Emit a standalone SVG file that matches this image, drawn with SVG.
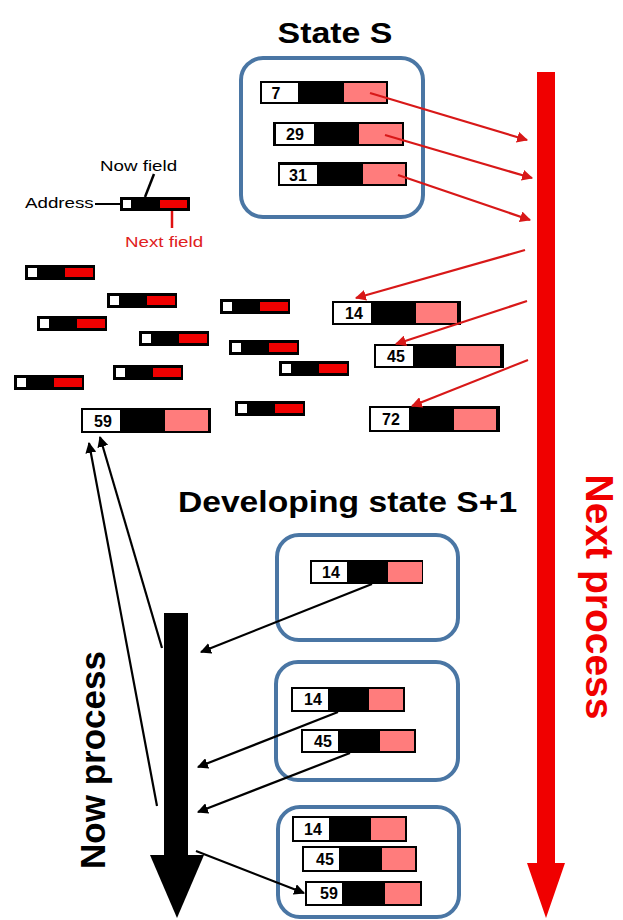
<svg xmlns="http://www.w3.org/2000/svg" width="623" height="920" viewBox="0 0 623 920">
<defs>
<style>
.blk{fill:#000}
.wh{fill:#fff}
.pk{fill:#FF7C7C}
.rd{fill:#F00000}
.box{fill:#fff;stroke:#4A76A4;stroke-width:4}
.num{font-family:"Liberation Sans",Arial,sans-serif;font-weight:bold;font-size:16px;fill:#000;text-anchor:middle}
.lbl{font-family:"Liberation Sans",Arial,sans-serif;font-size:15px}
.title{font-family:"Liberation Sans",Arial,sans-serif;font-weight:bold;font-size:29px;fill:#000;text-anchor:middle}
.rl{stroke:#D81818;stroke-width:2.2;fill:none;marker-end:url(#ra)}
.bl{stroke:#000;stroke-width:2.2;fill:none;marker-end:url(#ba)}
</style>
<marker id="ra" viewBox="0 0 10 10" refX="9" refY="5" markerWidth="5" markerHeight="5" orient="auto" markerUnits="strokeWidth"><path d="M0,0 L10,5 L0,10 z" fill="#D81818"/></marker>
<marker id="ba" viewBox="0 0 10 10" refX="9" refY="5" markerWidth="5" markerHeight="5" orient="auto" markerUnits="strokeWidth"><path d="M0,0 L10,5 L0,10 z" fill="#000"/></marker>
</defs>
<rect width="623" height="920" fill="#fff"/>

<!-- Titles -->
<text class="title" transform="translate(335,43) scale(1.17,1)">State S</text>
<text class="title" transform="translate(347.5,512) scale(1.16,1)">Developing state S+1</text>
<text class="title" transform="translate(586,597) rotate(90)" style="fill:#F00000;font-size:39px">Next process</text>
<text class="title" transform="translate(105,760) rotate(-90)" style="font-size:35px">Now process</text>

<!-- Big arrows -->
<g id="next-process-arrow">
<rect x="537" y="72" width="18" height="795" fill="#F00000"/>
<polygon points="527,863 565,863 546,918" fill="#F00000"/>
</g>
<g id="now-process-arrow">
<rect x="164" y="613" width="24" height="245" fill="#000"/>
<polygon points="150,855 204,855 177,918" fill="#000"/>
</g>

<!-- State S box -->
<g id="stateS">
<rect class="box" x="241" y="58" width="182" height="159" rx="22"/>
<g id="s7"><rect class="blk" x="260" y="81" width="128" height="23"/><rect class="wh" x="262" y="83" width="36" height="19"/><rect class="pk" x="344" y="83" width="42" height="19"/><text class="num" x="276" y="99">7</text></g>
<g id="s29"><rect class="blk" x="273" y="122" width="131" height="24"/><rect class="wh" x="276" y="124" width="38" height="20"/><rect class="pk" x="359" y="124" width="43" height="20"/><text class="num" x="295" y="140">29</text></g>
<g id="s31"><rect class="blk" x="278" y="162" width="129" height="24"/><rect class="wh" x="280" y="165" width="37" height="19"/><rect class="pk" x="363" y="164" width="42" height="20"/><text class="num" x="298" y="181">31</text></g>
</g>

<!-- Legend -->
<g id="legend">
<rect class="blk" x="120" y="197" width="70" height="14"/>
<rect class="wh" x="123" y="200" width="8" height="8"/>
<rect class="rd" x="160" y="200" width="27" height="8"/>
<line x1="95" y1="204" x2="120" y2="204" stroke="#000" stroke-width="2"/>
<line x1="145" y1="197" x2="154" y2="174" stroke="#000" stroke-width="2.5"/>
<line x1="172" y1="211" x2="172" y2="228" stroke="#E01010" stroke-width="2.5"/>
<text class="lbl" transform="translate(100,171) scale(1.25,1)">Now field</text>
<text class="lbl" transform="translate(25,208) scale(1.25,1)">Address</text>
<text class="lbl" transform="translate(125,247) scale(1.25,1)" fill="#E02020">Next field</text>
</g>

<!-- Small records -->
<g id="small1"><rect class="blk" x="25" y="265" width="70" height="15"/><rect class="wh" x="28" y="268" width="9" height="9"/><rect class="rd" x="65" y="268" width="28" height="9"/></g>
<g id="small2"><rect class="blk" x="107" y="293" width="70" height="15"/><rect class="wh" x="110" y="296" width="9" height="9"/><rect class="rd" x="147" y="296" width="28" height="9"/></g>
<g id="small3"><rect class="blk" x="220" y="299" width="70" height="15"/><rect class="wh" x="223" y="302" width="9" height="9"/><rect class="rd" x="260" y="302" width="28" height="9"/></g>
<g id="small4"><rect class="blk" x="37" y="316" width="70" height="15"/><rect class="wh" x="40" y="319" width="9" height="9"/><rect class="rd" x="77" y="319" width="28" height="9"/></g>
<g id="small5"><rect class="blk" x="139" y="331" width="70" height="15"/><rect class="wh" x="142" y="334" width="9" height="9"/><rect class="rd" x="179" y="334" width="28" height="9"/></g>
<g id="small6"><rect class="blk" x="229" y="340" width="70" height="15"/><rect class="wh" x="232" y="343" width="9" height="9"/><rect class="rd" x="269" y="343" width="28" height="9"/></g>
<g id="small7"><rect class="blk" x="279" y="361" width="70" height="15"/><rect class="wh" x="282" y="364" width="9" height="9"/><rect class="rd" x="319" y="364" width="28" height="9"/></g>
<g id="small8"><rect class="blk" x="113" y="365" width="70" height="15"/><rect class="wh" x="116" y="368" width="9" height="9"/><rect class="rd" x="153" y="368" width="28" height="9"/></g>
<g id="small9"><rect class="blk" x="14" y="375" width="70" height="15"/><rect class="wh" x="17" y="378" width="9" height="9"/><rect class="rd" x="54" y="378" width="28" height="9"/></g>
<g id="small10"><rect class="blk" x="235" y="401" width="70" height="15"/><rect class="wh" x="238" y="404" width="9" height="9"/><rect class="rd" x="275" y="404" width="28" height="9"/></g>

<!-- Big free records -->
<g id="r59"><rect class="blk" x="81" y="408" width="130" height="25"/><rect class="wh" x="83" y="410" width="37" height="21"/><rect class="pk" x="165" y="410" width="43" height="21"/><text class="num" x="103" y="427">59</text></g>
<g id="r14"><rect class="blk" x="332" y="301" width="129" height="24"/><rect class="wh" x="334" y="303" width="37" height="20"/><rect class="pk" x="416" y="303" width="41" height="20"/><text class="num" x="354" y="319">14</text></g>
<g id="r45"><rect class="blk" x="374" y="344" width="130" height="24"/><rect class="wh" x="376" y="346" width="37" height="20"/><rect class="pk" x="456" y="346" width="44" height="20"/><text class="num" x="396" y="362">45</text></g>
<g id="r72"><rect class="blk" x="369" y="406" width="131" height="26"/><rect class="wh" x="371" y="408" width="38" height="22"/><rect class="pk" x="454" y="409" width="42" height="21"/><text class="num" x="391" y="425">72</text></g>

<!-- S+1 box 1 -->
<g id="s1box1">
<rect class="box" x="277" y="535" width="181" height="105" rx="22"/>
<rect class="blk" x="310" y="560" width="113" height="24"/><rect class="wh" x="312" y="562" width="35" height="20"/><rect class="pk" x="388" y="562" width="34" height="20"/><text class="num" x="331" y="578">14</text>
</g>
<!-- S+1 box 2 -->
<g id="s1box2">
<rect class="box" x="276" y="662" width="182" height="118" rx="22"/>
<rect class="blk" x="291" y="687" width="114" height="25"/><rect class="wh" x="293" y="689" width="35" height="21"/><rect class="pk" x="369" y="689" width="34" height="21"/><text class="num" x="313" y="705">14</text>
<rect class="blk" x="301" y="729" width="115" height="24"/><rect class="wh" x="303" y="731" width="35" height="20"/><rect class="pk" x="380" y="731" width="34" height="20"/><text class="num" x="323" y="747">45</text>
</g>
<!-- S+1 box 3 -->
<g id="s1box3">
<rect class="box" x="278" y="807" width="181" height="110" rx="22"/>
<rect class="blk" x="292" y="816" width="115" height="26"/><rect class="wh" x="294" y="818" width="35" height="22"/><rect class="pk" x="371" y="818" width="34" height="22"/><text class="num" x="313" y="835">14</text>
<rect class="blk" x="302" y="846" width="115" height="26"/><rect class="wh" x="304" y="848" width="35" height="22"/><rect class="pk" x="382" y="848" width="33" height="22"/><text class="num" x="325" y="865">45</text>
<rect class="blk" x="305" y="881" width="117" height="25"/><rect class="wh" x="307" y="883" width="35" height="21"/><rect class="pk" x="385" y="883" width="35" height="21"/><text class="num" x="329" y="899">59</text>
</g>

<!-- Connectors -->
<g id="connectors">
<line class="rl" x1="370" y1="93" x2="527" y2="140"/>
<line class="rl" x1="385" y1="135" x2="532" y2="178"/>
<line class="rl" x1="398" y1="175" x2="530" y2="220"/>
<line class="rl" x1="525" y1="250" x2="356" y2="298"/>
<line class="rl" x1="527" y1="301" x2="396" y2="344"/>
<line class="rl" x1="528" y1="360" x2="412" y2="406"/>
<line class="bl" x1="372" y1="584" x2="201" y2="652"/>
<line class="bl" x1="338" y1="712" x2="198" y2="767"/>
<line class="bl" x1="350" y1="753" x2="198" y2="812"/>
<line class="bl" x1="196" y1="851" x2="304" y2="893"/>
<line class="bl" x1="162" y1="648" x2="100" y2="437"/>
<line class="bl" x1="157" y1="806" x2="89" y2="443"/>
</g>
</svg>
